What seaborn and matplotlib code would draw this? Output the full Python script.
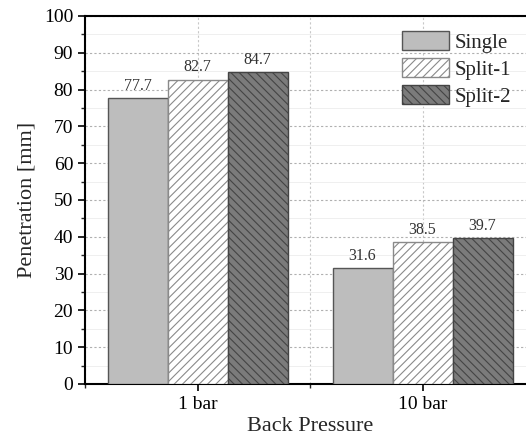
import matplotlib
matplotlib.use("Agg")
import matplotlib.pyplot as plt
import seaborn as sns
import pandas as pd
from matplotlib.ticker import MultipleLocator, FixedLocator
from matplotlib.patches import Patch

categories = ["1 bar", "10 bar"]
series = ["Single", "Split-1", "Split-2"]
single = [77.7, 31.6]
split1 = [82.7, 38.5]
split2 = [84.7, 39.7]

rows = []
for s, vals in zip(series, [single, split1, split2]):
    for c, v in zip(categories, vals):
        rows.append({"Back Pressure": c, "Injection": s, "Penetration": v})
df = pd.DataFrame(rows)

sns.set_style("white")
plt.rcParams['font.family'] = ['Liberation Serif', 'DejaVu Serif']
plt.rcParams['hatch.linewidth'] = 0.8

fig = plt.figure(figsize=(5.26, 4.43), dpi=100)
ax = fig.add_axes([85/526, 59/443, 450/526, 368/443])

colors = {"Single": "#bdbdbd", "Split-1": "#ffffff", "Split-2": "#7b7b7b"}
sns.barplot(data=df, x="Back Pressure", y="Penetration", hue="Injection",
            hue_order=series, order=categories, palette=colors, width=0.8,
            edgecolor="#555555", linewidth=1.0, saturation=1, ax=ax, zorder=3,
            legend=False)

hatches = ["", "////", "\\\\\\\\"]
hatch_edges = ["#555555", "#8a8a8a", "#444444"]
handles = []
for cont, s, h, ec in zip(ax.containers, series, hatches, hatch_edges):
    for p in cont:
        p.set_hatch(h)
        p.set_edgecolor(ec)
    ax.bar_label(cont, labels=[f"{v:.1f}" for v in cont.datavalues],
                 padding=3, fontsize=11.5, color="#333333")
    handles.append(Patch(facecolor=colors[s], edgecolor=ec, hatch=h,
                         linewidth=1.0, label=s))

ax.set_ylim(0, 100)
ax.set_xlim(-0.5, 1.5)
ax.yaxis.set_major_locator(MultipleLocator(10))
ax.yaxis.set_minor_locator(MultipleLocator(5))
ax.xaxis.set_minor_locator(FixedLocator([-0.5, 0.5, 1.5]))
ax.tick_params(axis="both", which="major", direction="out", length=5, width=1.2,
               labelsize=14, colors="black", left=True, bottom=True)
ax.tick_params(axis="both", which="minor", direction="out", length=3, width=1.0,
               left=True, bottom=True)

ax.grid(True, which="major", axis="y", linestyle=(0, (2, 2)), color="#b0b0b0", linewidth=0.8, zorder=0)
ax.grid(True, which="minor", axis="y", linestyle="-", color="#ececec", linewidth=0.6, zorder=0)
ax.grid(True, which="both", axis="x", linestyle=(0, (2, 2)), color="#c8c8c8", linewidth=0.8, zorder=0)
ax.set_axisbelow(True)

for side in ["left", "bottom", "top", "right"]:
    ax.spines[side].set_visible(True)
    ax.spines[side].set_color("black")
    ax.spines[side].set_linewidth(1.5)

ax.set_xlabel("Back Pressure", fontsize=16, labelpad=3)
ax.set_ylabel("Penetration [mm]", fontsize=16, labelpad=5)

ax.legend(handles=handles, loc="upper left", bbox_to_anchor=(317/450, 1 - 15/368),
          frameon=False, fontsize=15, handlelength=2.25, handleheight=1.05,
          labelspacing=0.25, handletextpad=0.3, borderaxespad=0.0, borderpad=0.0)

fig.savefig("out.png", dpi=100)
